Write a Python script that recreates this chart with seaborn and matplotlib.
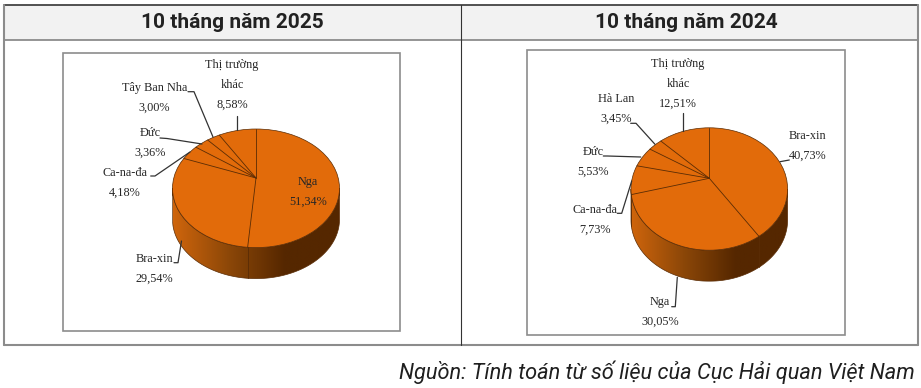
import matplotlib
matplotlib.use('Agg')
import matplotlib.pyplot as plt
from matplotlib.patches import Polygon, Rectangle, Ellipse
import numpy as np
import seaborn as sns

# ============================================================
# Data
# ============================================================
titles = ['10 tháng năm 2025', '10 tháng năm 2024']
source = 'Nguồn: Tính toán từ số liệu của Cục Hải quan Việt Nam'

names_2025 = ['Nga', 'Bra-xin', 'Ca-na-đa', 'Đức', 'Tây Ban Nha', 'Thị trường\nkhác']
values_2025 = [51.34, 29.54, 4.18, 3.36, 3.00, 8.58]

names_2024 = ['Bra-xin', 'Nga', 'Ca-na-đa', 'Đức', 'Hà Lan', 'Thị trường\nkhác']
values_2024 = [40.73, 30.05, 7.73, 5.53, 3.45, 12.51]

# ============================================================
# Layout (in pixels of the 921x388 picture)
# ============================================================
layout_2025 = dict(box=(62.5, 53, 400, 331), cx=256, cy=188.3, rx=83.5, ry=59.3, apex=178, depth=31)
layout_2024 = dict(box=(527, 49.5, 844.5, 335), cx=709.3, cy=189, rx=78.3, ry=61.2, apex=178.3, depth=31)

label_pos_2025 = [(307.7, 192), (154.5, 268.5), (125, 182.5), (150, 143), (154.5, 97.5), (232, 85)]
label_pos_2024 = [(807.5, 146), (660, 312), (594.5, 219.5), (593, 162), (615.7, 108.5), (678, 84)]

leaders_2025 = [
    None,
    [(174, 262.7), (178, 262.7), (181.5, 241)],
    [(150.7, 176), (155, 176), (190, 152)],
    [(160, 138), (167, 138.5), (202, 144)],
    [(188, 91.7), (194, 91.7), (213, 137)],
    [(237.3, 115.7), (237.3, 130)],
]
leaders_2024 = [
    [(789.3, 160), (780, 161.7)],
    [(671.7, 306.7), (675.3, 306.7), (677.3, 277.3)],
    [(617.3, 213.3), (621.7, 213.3), (631.7, 181)],
    [(603.3, 156), (607.3, 156), (640.7, 157)],
    [(630.7, 123.3), (636, 123.3), (655, 144.3)],
    [(683.3, 113.3), (683.3, 131)],
]

TOP_COLOR = '#e26b0a'
EDGE_COLOR = '#5a2c05'
TEXT_COLOR = '#262626'
LABEL_FONT = ['Liberation Serif', 'DejaVu Serif']

sns.set_theme(style='white')
plt.rcParams['font.family'] = ['Roboto', 'DejaVu Sans']
wall_cmap = sns.blend_palette(['#cf650c', '#8c4708', '#552700', '#552700'], as_cmap=True)


def rim_point(theta, lay):
    # perspective view of a circle: the centre sits above the middle of the ellipse
    e = (lay['cy'] - lay['apex']) / lay['ry']
    x, y = np.sin(theta), np.cos(theta)
    d = 1 + e * y
    return lay['cx'] + lay['rx'] * x * np.sqrt(1 - e ** 2) / d, lay['cy'] - lay['ry'] * (y + e) / d


def draw_pie(ax, names, values, lay, label_pos, leaders):
    x0, y0, x1, y1 = lay['box']
    ax.add_patch(Rectangle((x0, y0), x1 - x0, y1 - y0, fc='white', ec='#8c8c8c', lw=1.2, zorder=1))

    cx, cy, rx, ry, depth = lay['cx'], lay['cy'], lay['rx'], lay['ry'], lay['depth']

    # side wall with a horizontal shading
    t = np.linspace(0, np.pi, 200)
    wall_x = cx + rx * np.cos(t)
    wall_y = cy + ry * np.sin(t)
    verts = np.vstack([
        np.column_stack([wall_x, wall_y + depth]),
        [[cx - rx, cy]],
        np.column_stack([wall_x[::-1], wall_y[::-1]]),
        [[cx + rx, cy]],
    ])
    wall = Polygon(verts, closed=True, fc='none', ec=EDGE_COLOR, lw=0.5, zorder=2)
    ax.add_patch(wall)
    img = ax.imshow(np.linspace(0, 1, 256)[None, :], cmap=wall_cmap, aspect='auto',
                    extent=(cx - rx, cx + rx, cy + ry + depth, cy - ry), zorder=1.5)
    img.set_clip_path(wall)

    ax.add_patch(Ellipse((cx, cy), 2 * rx, 2 * ry, fc=TOP_COLOR, ec=EDGE_COLOR, lw=0.5, zorder=3))

    # slice borders from the shares
    shares = np.cumsum(values) / np.sum(values)
    for s in np.r_[0, shares[:-1]]:
        px, py = rim_point(2 * np.pi * s, lay)
        ax.plot([cx, px], [lay['apex'], py], color=EDGE_COLOR, lw=0.6, zorder=4)
        if py > cy:
            ax.plot([px, px], [py, py + depth], color=EDGE_COLOR, lw=0.6, zorder=4)

    for name, v, (lx, ly), lead in zip(names, values, label_pos, leaders):
        ax.text(lx, ly, f'{name}\n{v:.2f}%'.replace('.', ','), ha='center', va='center',
                family=LABEL_FONT, fontsize=8.8, linespacing=1.85, color=TEXT_COLOR, zorder=6)
        if lead is not None:
            xs, ys = zip(*lead)
            ax.plot(xs, ys, color='#333333', lw=0.9, zorder=5)


fig = plt.figure(figsize=(9.21, 3.88), dpi=100)
ax = fig.add_axes([0, 0, 1, 1])

# table frame
ax.add_patch(Rectangle((4, 5), 457, 35, fc='#f2f2f2', ec='none', zorder=0))
ax.add_patch(Rectangle((461, 5), 456, 35, fc='#f2f2f2', ec='none', zorder=0))
ax.plot([3.5, 917.5], [5, 5], color='#444444', lw=1.3)
ax.plot([3.5, 917.5], [40, 40], color='#8c8c8c', lw=1.3)
ax.plot([3.5, 917.5], [344.5, 344.5], color='#8c8c8c', lw=1.5)
ax.plot([3.5, 3.5], [5, 344.5], color='#8c8c8c', lw=1.5)
ax.plot([917.5, 917.5], [5, 344.5], color='#8c8c8c', lw=1.5)
ax.plot([460.5, 460.5], [5, 344.5], color='#333333', lw=0.8)

ax.text(232, 23, titles[0], ha='center', va='center', fontsize=15, fontweight='bold', color='#222222')
ax.text(686, 23, titles[1], ha='center', va='center', fontsize=15, fontweight='bold', color='#222222')

draw_pie(ax, names_2025, values_2025, layout_2025, label_pos_2025, leaders_2025)
draw_pie(ax, names_2024, values_2024, layout_2024, label_pos_2024, leaders_2024)

ax.text(915, 372, source, ha='right', va='center', fontsize=15.7, fontstyle='italic', color='#1f1f1f')

ax.set_xlim(0, 921)
ax.set_ylim(388, 0)
ax.axis('off')
sns.despine(ax=ax, left=True, bottom=True)
fig.savefig('out.png', dpi=100)
plt.close()
